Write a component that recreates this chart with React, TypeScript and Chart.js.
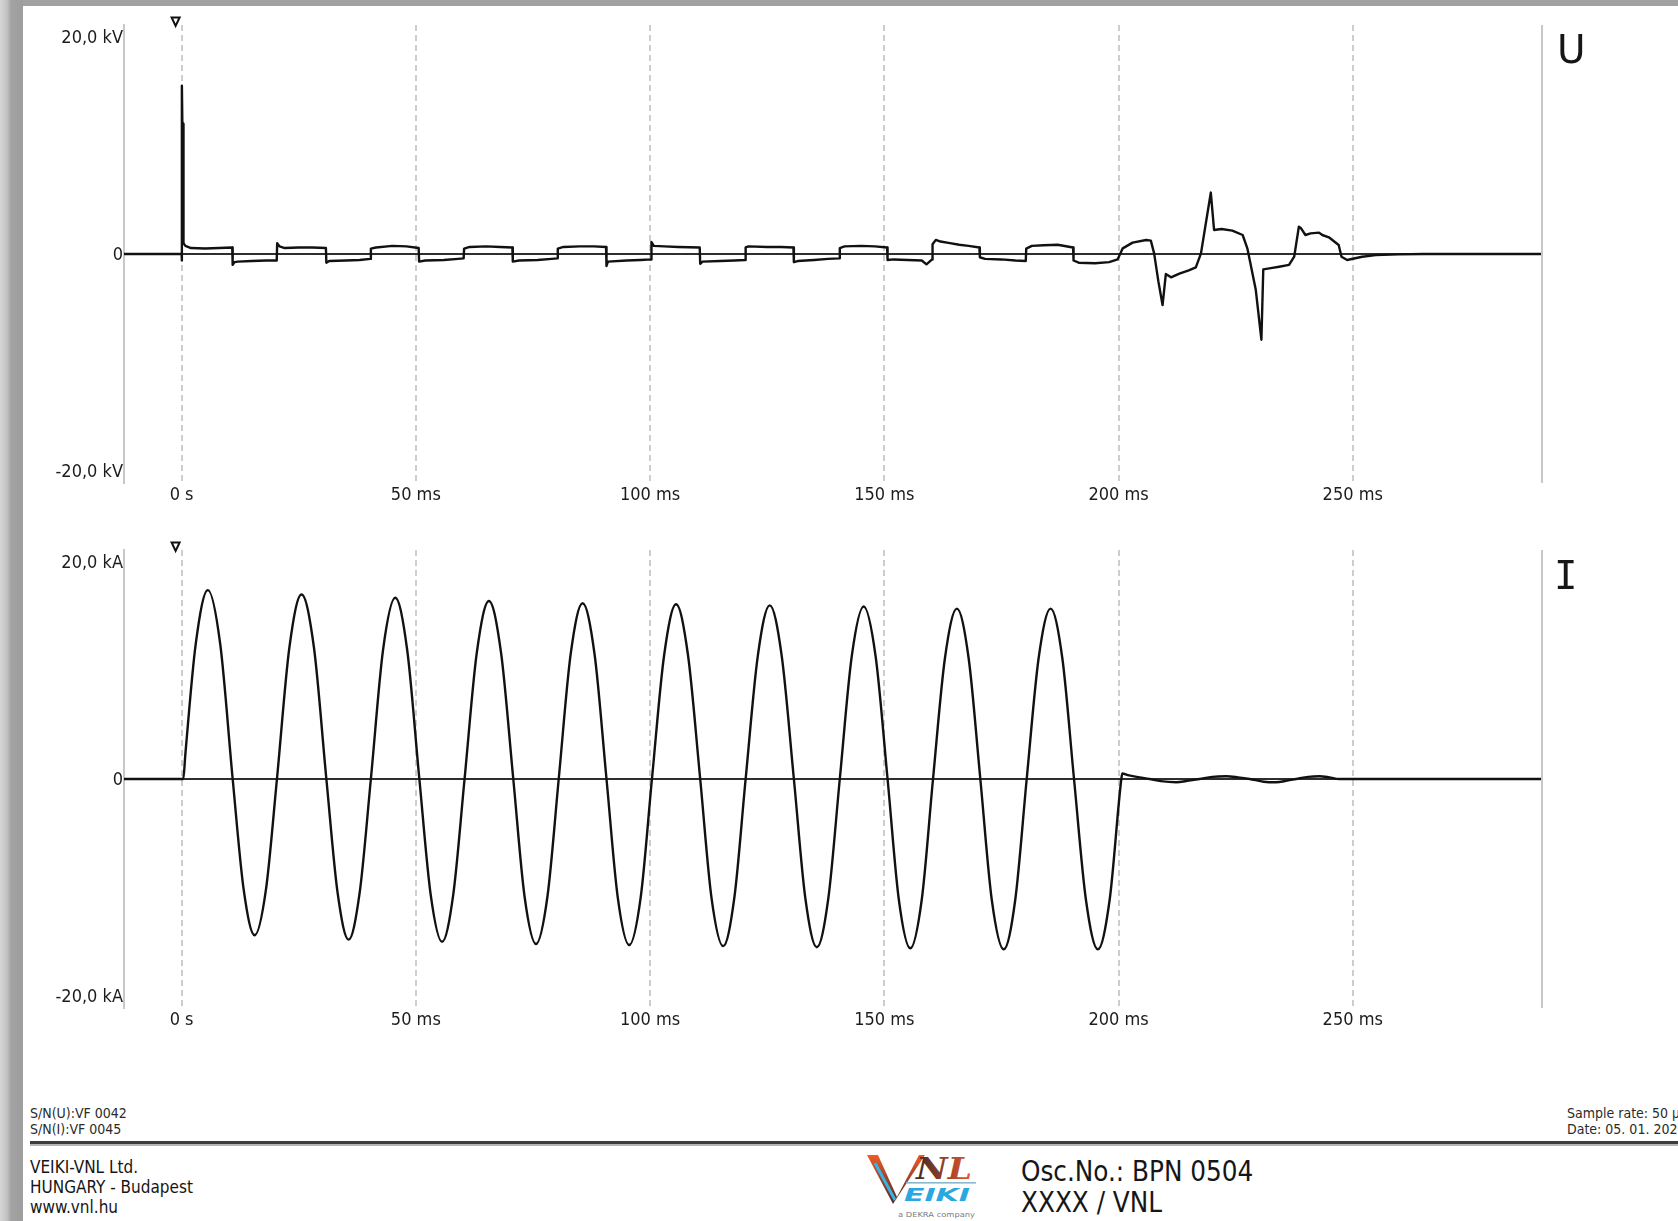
import React, { useEffect, useRef } from "react";
import { Chart, registerables } from "chart.js";

Chart.register(...registerables);

const FONT = '"DejaVu Sans Condensed", "DejaVu Sans", sans-serif';

// ---- axes ----
const timeMin = -12.3;
const timeMax = 290.4;
const ampMin = -21.1;
const ampMax = 21.1;
const timeTicks = [0, 50, 100, 150, 200, 250];
const timeTickLabels = ["0 s", "50 ms", "100 ms", "150 ms", "200 ms", "250 ms"];
const ampTicks = [-20, 0, 20];
const voltTickLabels = ["-20,0 kV", "0", "20,0 kV"];
const currTickLabels = ["-20,0 kA", "0", "20,0 kA"];

// ---- voltage U (ms, kV) ----
const uTime = [
  -12.3, 0, 0.03, 0.08, 0.15, 0.3, 0.4, 0.8, 2, 5, 8, 10.8,
  10.9, 11.3, 12, 15, 18, 20.3,
  20.4, 20.9, 22, 25, 28, 30.8,
  30.9, 31.5, 35, 38, 40.3,
  40.4, 41.5, 45, 48, 50.6,
  50.7, 52, 56, 59, 60.2,
  60.3, 61.5, 65, 68, 70.6,
  70.7, 72, 76, 79, 80.2,
  80.3, 81.5, 85, 88, 90.6,
  90.7, 91, 95, 98, 100.2,
  100.3, 100.8, 103, 106, 110.6,
  110.7, 111.2, 115, 118, 120.3,
  120.4, 121, 125, 128, 130.6,
  130.7, 131.5, 135, 138, 140.4,
  140.5, 141.5, 145, 148, 150.6,
  150.7, 152, 155, 158, 159, 160.2,
  160.3, 161, 162, 164, 166, 168, 170.3,
  170.4, 171.5, 175, 178, 180.2,
  180.3, 181.5, 184, 187, 190.3,
  190.4, 191.5, 195, 198, 199.8,
  200.9, 203, 205.9, 206.9, 207.6, 208.5, 209.4, 210.1, 211.2, 213, 215, 216.5,
  217.6, 218.7, 219.7, 220.4, 222, 224.3, 226.5, 227.5, 229.3, 230.5, 230.9,
  232.5, 234.3, 236.4, 237.5, 238.5, 238.9, 239.9, 241, 242.8, 243.5, 244.9,
  247, 247.6, 248.8, 252, 254.9, 259.8, 265, 290.4,
];
const uValue = [
  0, 0, -0.6, 15.5, 12.2, 12.0, 1.0, 0.75, 0.55, 0.5, 0.55, 0.6,
  -1.0, -0.75, -0.7, -0.65, -0.6, -0.6,
  1.0, 0.7, 0.55, 0.6, 0.6, 0.55,
  -0.8, -0.65, -0.6, -0.55, -0.45,
  0.5, 0.6, 0.75, 0.7, 0.55,
  -0.7, -0.6, -0.55, -0.45, -0.4,
  0.5, 0.65, 0.7, 0.65, 0.6,
  -0.7, -0.6, -0.55, -0.45, -0.4,
  0.5, 0.65, 0.7, 0.7, 0.65,
  -1.1, -0.7, -0.6, -0.55, -0.5,
  1.1, 0.75, 0.7, 0.65, 0.6,
  -0.9, -0.7, -0.65, -0.6, -0.55,
  0.6, 0.7, 0.65, 0.65, 0.6,
  -0.75, -0.65, -0.55, -0.45, -0.4,
  0.55, 0.7, 0.75, 0.7, 0.6,
  -0.55, -0.5, -0.55, -0.6, -0.95, -0.5,
  0.9, 1.3, 1.15, 1.0, 0.85, 0.75, 0.6,
  -0.3, -0.45, -0.5, -0.6, -0.65,
  0.5, 0.75, 0.8, 0.85, 0.6,
  -0.6, -0.8, -0.85, -0.75, -0.5,
  0.52, 1.05, 1.29, 1.23, 0.06, -2.5, -4.7, -1.85, -2.15, -1.8, -1.5, -1.23,
  0.06, 3.0, 5.66, 2.21, 2.3, 2.15, 1.75, 0.52, -3.3, -7.9, -1.42,
  -1.3, -1.17, -1.0, -0.25, 2.52, 2.4, 1.75, 1.9, 1.97, 1.75, 1.54,
  0.83, -0.25, -0.55, -0.25, -0.1, -0.03, 0, 0,
];

// ---- current I (ms, kA) ----
const iTime = [
  -12.3, 0.35, 0.8, 3.0, 5.6, 8.25, 10.9,
  13.25, 15.6, 18.0, 20.35,
  23.0, 25.6, 28.25, 30.9,
  33.3, 35.65, 38.0, 40.4,
  43.0, 45.6, 48.15, 50.75,
  53.15, 55.6, 58.0, 60.4,
  63.0, 65.6, 68.2, 70.8,
  73.2, 75.65, 78.1, 80.5,
  83.05, 85.6, 88.15, 90.7,
  93.1, 95.55, 98.0, 100.4,
  103.0, 105.55, 108.1, 110.7,
  113.1, 115.6, 118.0, 120.4,
  123.0, 125.55, 128.1, 130.7,
  133.15, 135.6, 138.05, 140.5,
  143.05, 145.6, 148.15, 150.7,
  153.1, 155.55, 158.0, 160.4,
  162.95, 165.5, 168.0, 170.5,
  172.95, 175.5, 177.95, 180.4,
  182.95, 185.5, 188.0, 190.5,
  193.05, 195.6, 198.1, 200.6,
  200.8, 202, 204.5, 206.6, 209, 212.3, 215, 217.3, 220, 223, 225.5, 228,
  231, 233.6, 236, 237.9, 240.5, 242.9, 245, 247.1, 290.4,
];
const iValue = [
  0, 0, 2.3, 12.4, 17.4, 12.4, 0,
  -10.2, -14.4, -10.2, 0,
  12.1, 17.0, 12.1, 0,
  -10.5, -14.8, -10.5, 0,
  11.9, 16.7, 11.9, 0,
  -10.6, -15.0, -10.6, 0,
  11.6, 16.4, 11.6, 0,
  -10.8, -15.2, -10.8, 0,
  11.5, 16.2, 11.5, 0,
  -10.9, -15.3, -10.9, 0,
  11.4, 16.1, 11.4, 0,
  -10.9, -15.4, -10.9, 0,
  11.35, 16.0, 11.35, 0,
  -11.0, -15.5, -11.0, 0,
  11.3, 15.9, 11.3, 0,
  -11.1, -15.6, -11.1, 0,
  11.15, 15.7, 11.15, 0,
  -11.15, -15.7, -11.15, 0,
  11.15, 15.7, 11.15, 0,
  -11.15, -15.7, -11.15, 0,
  0.5, 0.35, 0.15, 0, -0.2, -0.3, -0.15, 0, 0.2, 0.25, 0.15, 0,
  -0.25, -0.3, -0.15, 0, 0.2, 0.25, 0.15, 0, 0,
];

const framePlugin = {
  id: "frameMarks",
  afterDraw(chart: any) {
    const { ctx, chartArea } = chart;
    ctx.save();
    ctx.strokeStyle = "#c8c8c8";
    ctx.lineWidth = 2;
    ctx.beginPath();
    ctx.moveTo(chartArea.right, chartArea.top);
    ctx.lineTo(chartArea.right, chartArea.bottom);
    ctx.stroke();
    const x0 = chart.scales.x.getPixelForValue(0) - 6;
    const yTop = chartArea.top - 7.5;
    ctx.beginPath();
    ctx.moveTo(x0 - 4, yTop);
    ctx.lineTo(x0 + 4, yTop);
    ctx.lineTo(x0, yTop + 8.5);
    ctx.closePath();
    ctx.fillStyle = "#ffffff";
    ctx.fill();
    ctx.strokeStyle = "#111111";
    ctx.lineWidth = 2;
    ctx.lineJoin = "miter";
    ctx.stroke();
    ctx.restore();
  },
};

type WaveProps = {
  times: number[];
  values: number[];
  yLabels: string[];
  smooth: boolean;
  top: number;
};

function WaveChart({ times, values, yLabels, smooth, top }: WaveProps) {
  const ref = useRef<HTMLCanvasElement>(null);
  useEffect(() => {
    const canvas = ref.current!;
    const chart = new Chart(canvas, {
      type: "line",
      data: {
        datasets: [
          {
            data: times.map((t, i) => ({ x: t, y: values[i] })),
            borderColor: "#111111",
            borderWidth: 2.4,
            pointRadius: 0,
            fill: false,
            tension: smooth ? 0.4 : 0,
            cubicInterpolationMode: smooth ? "monotone" : "default",
            borderJoinStyle: "round",
          } as any,
        ],
      },
      options: {
        responsive: false,
        animation: false,
        devicePixelRatio: 1,
        events: [],
        layout: { padding: { left: 0, top: 25, right: 136, bottom: 7 } },
        plugins: { legend: { display: false }, tooltip: { enabled: false } },
        scales: {
          x: {
            type: "linear",
            min: timeMin,
            max: timeMax,
            afterBuildTicks: (s: any) => {
              s.ticks = timeTicks.map((v) => ({ value: v }));
            },
            afterFit: (s: any) => {
              s.height = 30;
            },
            ticks: {
              callback: (v: any) => {
                const k = timeTicks.indexOf(Number(v));
                return k >= 0 ? timeTickLabels[k] : "";
              },
              font: { family: FONT, size: 18 },
              color: "#1c1c1c",
              padding: 1.5,
              maxRotation: 0,
              autoSkip: false,
            },
            grid: { color: "#cdcdcd", lineWidth: 2, drawTicks: false },
            border: { display: false, dash: [6, 4] },
          },
          y: {
            type: "linear",
            min: ampMin,
            max: ampMax,
            afterBuildTicks: (s: any) => {
              s.ticks = ampTicks.map((v) => ({ value: v }));
            },
            afterFit: (s: any) => {
              s.width = 124;
            },
            ticks: {
              callback: (v: any) => {
                const k = ampTicks.indexOf(Number(v));
                return k >= 0 ? yLabels[k] : "";
              },
              font: { family: FONT, size: 18 },
              color: "#1c1c1c",
              padding: 1,
              labelOffset: 1,
              autoSkip: false,
            },
            grid: {
              color: (c: any) => (c.tick && c.tick.value === 0 ? "#2e2e2e" : "rgba(0,0,0,0)"),
              lineWidth: 2,
              drawTicks: false,
            },
            border: { display: true, color: "#c8c8c8", width: 2 },
          },
        },
      } as any,
      plugins: [framePlugin],
    });
    return () => chart.destroy();
  }, []);
  return (
    <canvas
      ref={ref}
      width={1678}
      height={520}
      style={{ position: "absolute", left: 0, top, width: 1678, height: 520 }}
    />
  );
}

const txt = (extra: React.CSSProperties): React.CSSProperties => ({
  position: "absolute",
  fontFamily: FONT,
  color: "#161616",
  whiteSpace: "nowrap",
  ...extra,
});

function Logo() {
  return (
    <svg
      width={122}
      height={72}
      viewBox="0 0 122 72"
      style={{ position: "absolute", left: 858, top: 1150 }}
    >
      <defs>
        <linearGradient id="lgV" x1="0" y1="0" x2="0" y2="1">
          <stop offset="0" stopColor="#f05a28" />
          <stop offset="1" stopColor="#4a2a22" />
        </linearGradient>
        <linearGradient id="lgN" x1="0" y1="0" x2="1" y2="0">
          <stop offset="0" stopColor="#3a2a28" />
          <stop offset="1" stopColor="#e8582a" />
        </linearGradient>
      </defs>
      <polygon points="9,5 20,5 39,47 35,54" fill="url(#lgV)" />
      <polyline points="17,13 37,50" stroke="#39b2e6" strokeWidth={3} fill="none" />
      <polygon points="35,54 39,47 61,5 67,5" fill="url(#lgV)" />
      <text
        x={58}
        y={29}
        fontSize={29}
        fontStyle="italic"
        fontWeight="bold"
        fontFamily="DejaVu Serif, serif"
        fill="url(#lgN)"
        textLength={56}
        lengthAdjust="spacingAndGlyphs"
      >
        NL
      </text>
      <rect x={48} y={32} width={70} height={1.6} fill="#8bb7cf" />
      <text
        x={46}
        y={51}
        fontSize={17}
        fontStyle="italic"
        fontWeight="bold"
        fontFamily="DejaVu Sans, sans-serif"
        fill="#2aa6e0"
        textLength={66}
        lengthAdjust="spacingAndGlyphs"
      >
        EIKI
      </text>
      <text
        x={40}
        y={67}
        fontSize={7}
        fontFamily="DejaVu Sans, sans-serif"
        fill="#7a7a7a"
        textLength={77}
        lengthAdjust="spacingAndGlyphs"
      >
        a DEKRA company
      </text>
    </svg>
  );
}

export default function App() {
  return (
    <div
      style={{
        position: "absolute",
        left: 0,
        top: 0,
        width: 1678,
        height: 1221,
        overflow: "hidden",
        background: "#a2a2a2",
      }}
    >
      <div
        style={{
          position: "absolute",
          left: 0,
          top: 0,
          width: 23,
          height: 1221,
          background:
            "linear-gradient(to right, #d6d6d6 0px, #c2c2c2 7px, #a3a3a3 11px, #9e9e9e 22px)",
        }}
      />
      <div
        style={{
          position: "absolute",
          left: 23,
          top: 6,
          width: 1655,
          height: 1215,
          background: "#ffffff",
        }}
      />
      <WaveChart times={uTime} values={uValue} yLabels={voltTickLabels} smooth={false} top={0} />
      <WaveChart times={iTime} values={iValue} yLabels={currTickLabels} smooth={true} top={525} />

      <div style={txt({ left: 1557, top: 30, fontSize: 39, lineHeight: "39px", fontFamily: "DejaVu Sans, sans-serif" })}>U</div>
      <div style={txt({ left: 1554, top: 556, fontSize: 39, lineHeight: "39px", fontFamily: "DejaVu Sans Mono, monospace" })}>I</div>

      <div style={txt({ left: 30, top: 1105, fontSize: 14, lineHeight: "16px", color: "#2a2a2a" })}>
        S/N(U):VF 0042
        <br />
        S/N(I):VF 0045
      </div>
      <div style={txt({ left: 1567, top: 1105, fontSize: 14, lineHeight: "16px", color: "#2a2a2a" })}>
        Sample rate: 50 µs
        <br />
        Date: 05. 01. 2024
      </div>
      <div style={{ position: "absolute", left: 30, top: 1141, width: 1648, height: 3, background: "#3c3c3c" }} />
      <div style={{ position: "absolute", left: 30, top: 1144, width: 1648, height: 2, background: "#b4b4b4" }} />

      <div style={txt({ left: 30, top: 1157, fontSize: 17, lineHeight: "20px" })}>
        VEIKI-VNL Ltd.
        <br />
        HUNGARY - Budapest
        <br />
        www.vnl.hu
      </div>

      <Logo />

      <div style={txt({ left: 1021, top: 1156, fontSize: 27.5, lineHeight: "31px" })}>
        Osc.No.: BPN 0504
        <br />
        XXXX / VNL
      </div>
    </div>
  );
}
